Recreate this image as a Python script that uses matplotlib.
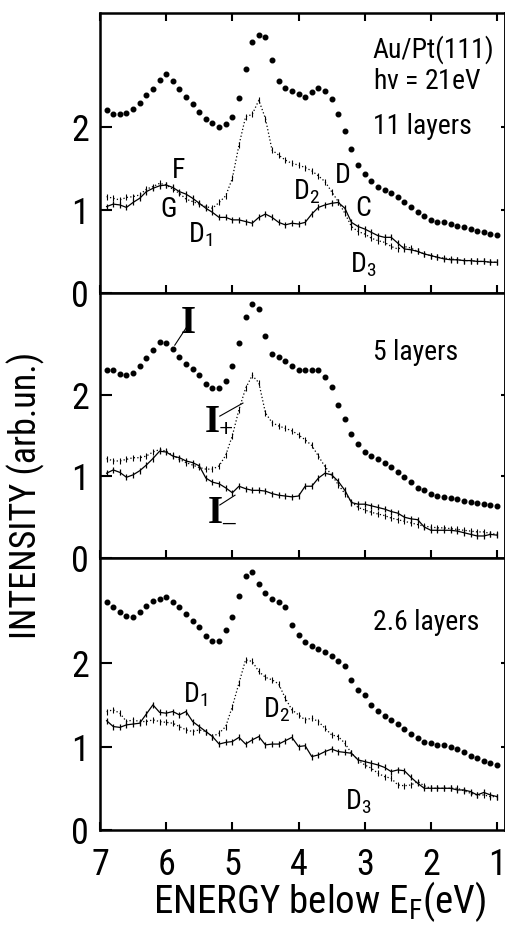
import matplotlib
matplotlib.use("Agg")
import matplotlib.pyplot as plt
import numpy as np
from matplotlib import font_manager

# energy grid (eV below E_F), 0.1 eV steps
energy = np.round(np.arange(6.9, 0.95, -0.1), 1)

# 11 layers
top_total = [2.20, 2.16, 2.15, 2.17, 2.22, 2.29, 2.38, 2.46, 2.56, 2.63,
             2.55, 2.45, 2.36, 2.28, 2.18, 2.10, 2.05, 2.00, 2.03, 2.12,
             2.35, 2.70, 3.02, 3.11, 3.08, 2.80, 2.55, 2.47, 2.43, 2.39,
             2.36, 2.42, 2.47, 2.43, 2.33, 2.15, 1.95, 1.73, 1.54, 1.43,
             1.35, 1.28, 1.24, 1.20, 1.16, 1.10, 1.04, 0.98, 0.93, 0.88,
             0.86, 0.85, 0.83, 0.81, 0.79, 0.77, 0.75, 0.73, 0.71, 0.70]
top_plus = [1.16, 1.14, 1.12, 1.15, 1.16, 1.18, 1.25, 1.28, 1.32, 1.30,
            1.25, 1.20, 1.13, 1.10, 1.07, 1.04, 1.02, 1.09, 1.17, 1.38,
            1.78, 2.12, 2.15, 2.32, 2.10, 1.72, 1.66, 1.60, 1.56, 1.54,
            1.51, 1.47, 1.41, 1.34, 1.22, 1.10, 0.96, 0.80, 0.74, 0.71,
            0.66, 0.63, 0.61, 0.56, 0.53, 0.56, 0.54, 0.50, 0.47, 0.45,
            0.43, 0.42, 0.41, 0.40, 0.39, 0.39, 0.38, 0.38, 0.37, 0.37]
top_minus = [1.04, 1.07, 1.06, 1.03, 1.09, 1.14, 1.22, 1.26, 1.29, 1.30,
             1.27, 1.22, 1.19, 1.14, 1.08, 1.02, 0.97, 0.91, 0.91, 0.88,
             0.88, 0.86, 0.84, 0.91, 0.95, 0.91, 0.85, 0.82, 0.84, 0.83,
             0.85, 0.95, 1.03, 1.06, 1.08, 1.09, 1.02, 0.85, 0.80, 0.77,
             0.73, 0.69, 0.67, 0.67, 0.60, 0.53, 0.52, 0.50, 0.47, 0.45,
             0.43, 0.41, 0.40, 0.40, 0.39, 0.39, 0.38, 0.38, 0.37, 0.37]

# 5 layers
mid_total = [2.31, 2.30, 2.26, 2.25, 2.27, 2.35, 2.45, 2.55, 2.65, 2.64,
             2.56, 2.46, 2.38, 2.32, 2.24, 2.14, 2.09, 2.09, 2.17, 2.36,
             2.64, 2.95, 3.12, 3.05, 2.72, 2.50, 2.46, 2.42, 2.35, 2.30,
             2.30, 2.31, 2.30, 2.22, 2.10, 1.88, 1.70, 1.52, 1.40, 1.30,
             1.25, 1.21, 1.16, 1.11, 1.06, 0.99, 0.93, 0.86, 0.83, 0.78,
             0.76, 0.75, 0.74, 0.72, 0.70, 0.69, 0.68, 0.66, 0.65, 0.64]
mid_plus = [1.22, 1.19, 1.19, 1.21, 1.23, 1.23, 1.25, 1.30, 1.33, 1.31,
            1.26, 1.21, 1.17, 1.14, 1.11, 1.09, 1.09, 1.13, 1.26, 1.50,
            1.82, 2.08, 2.24, 2.15, 1.78, 1.66, 1.62, 1.59, 1.56, 1.51,
            1.45, 1.38, 1.25, 1.12, 1.02, 0.90, 0.79, 0.69, 0.62, 0.59,
            0.56, 0.54, 0.52, 0.49, 0.47, 0.45, 0.43, 0.41, 0.39, 0.38,
            0.37, 0.37, 0.36, 0.35, 0.34, 0.33, 0.32, 0.32, 0.30, 0.29]
mid_minus = [1.04, 1.08, 1.05, 0.99, 1.02, 1.07, 1.14, 1.22, 1.31, 1.30,
             1.25, 1.23, 1.19, 1.17, 1.13, 0.98, 0.93, 0.91, 0.86, 0.80,
             0.88, 0.85, 0.83, 0.83, 0.82, 0.79, 0.77, 0.76, 0.75, 0.76,
             0.88, 0.88, 0.98, 1.04, 1.02, 0.94, 0.83, 0.68, 0.66, 0.66,
             0.64, 0.62, 0.60, 0.57, 0.55, 0.50, 0.48, 0.47, 0.38, 0.34,
             0.34, 0.34, 0.34, 0.33, 0.31, 0.29, 0.27, 0.27, 0.29, 0.28]

# 2.6 layers
bot_total = [2.73, 2.67, 2.61, 2.57, 2.55, 2.61, 2.69, 2.75, 2.77, 2.79,
             2.73, 2.67, 2.59, 2.50, 2.43, 2.33, 2.27, 2.27, 2.40, 2.55,
             2.80, 3.05, 3.09, 2.95, 2.84, 2.77, 2.73, 2.67, 2.46, 2.34,
             2.25, 2.21, 2.17, 2.13, 2.09, 2.03, 1.96, 1.80, 1.68, 1.62,
             1.50, 1.43, 1.37, 1.32, 1.27, 1.21, 1.15, 1.10, 1.06, 1.04,
             1.02, 1.02, 1.00, 0.97, 0.93, 0.89, 0.86, 0.83, 0.80, 0.78]
bot_plus = [1.42, 1.44, 1.40, 1.30, 1.32, 1.30, 1.30, 1.32, 1.30, 1.29,
            1.28, 1.24, 1.20, 1.18, 1.20, 1.18, 1.12, 1.16, 1.24, 1.48,
            1.76, 2.04, 2.02, 1.90, 1.83, 1.80, 1.75, 1.58, 1.44, 1.38,
            1.32, 1.34, 1.30, 1.22, 1.14, 1.12, 1.04, 0.92, 0.84, 0.78,
            0.74, 0.68, 0.64, 0.62, 0.54, 0.53, 0.54, 0.58, 0.53, 0.50,
            0.50, 0.50, 0.50, 0.50, 0.47, 0.44, 0.42, 0.42, 0.40, 0.40]
bot_minus = [1.31, 1.24, 1.23, 1.26, 1.27, 1.28, 1.39, 1.50, 1.41, 1.40,
             1.42, 1.38, 1.42, 1.30, 1.24, 1.18, 1.12, 1.03, 1.05, 1.06,
             1.11, 1.03, 1.08, 1.12, 1.02, 1.03, 1.03, 1.07, 1.11, 1.00,
             1.01, 0.88, 0.90, 0.94, 0.97, 0.94, 0.93, 0.92, 0.84, 0.82,
             0.80, 0.78, 0.75, 0.70, 0.72, 0.71, 0.63, 0.56, 0.50, 0.50,
             0.50, 0.50, 0.50, 0.48, 0.48, 0.46, 0.42, 0.45, 0.42, 0.40]

x_ticks = [7, 6, 5, 4, 3, 2, 1]
y_ticks = [0, 1, 2]
panel_titles = ["11 layers", "5 layers", "2.6 layers"]

# look for a narrow sans (the original uses a DIN-like face)
fonts = font_manager.fontManager.ttflist
names = {f.name for f in fonts}
sans, stretch, scale = "Roboto", "normal", 0.88
for cand in ["Liberation Sans Narrow", "Roboto Condensed", "Open Sans Condensed",
             "Noto Sans Condensed", "DejaVu Sans Condensed"]:
    if cand in names:
        sans, scale = cand, 1.0
        break
else:
    if any(f.name == "DejaVu Sans" and "condensed" in str(f.stretch) for f in fonts):
        sans, stretch, scale = "DejaVu Sans", "condensed", 0.95
    elif "Roboto" not in names:
        sans, scale = "DejaVu Sans", 0.82
serif = "Liberation Serif" if "Liberation Serif" in names else "DejaVu Serif"

plt.rcParams["font.family"] = [sans, "DejaVu Sans"]
plt.rcParams["font.stretch"] = stretch
plt.rcParams["mathtext.fontset"] = "custom"
plt.rcParams["mathtext.rm"] = sans
plt.rcParams["mathtext.it"] = sans
plt.rcParams["mathtext.default"] = "regular"

big = 26 * scale
small = 20 * scale

W, H = 506, 927
fig = plt.figure(figsize=(W / 100, H / 100), dpi=100)

# panel boxes in pixels: (top, bottom), and y-limit
boxes = [(13, 293, 3.37), (293, 558, 3.25), (558, 830, 3.26)]
x_left, x_right = 100, 505

panels = [(top_total, top_plus, top_minus),
          (mid_total, mid_plus, mid_minus),
          (bot_total, bot_plus, bot_minus)]

axes = []
for i, ((ptop, pbot, ymax), (tot, plus, minus)) in enumerate(zip(boxes, panels)):
    ax = fig.add_axes([x_left / W, (H - pbot) / H, (x_right - x_left) / W, (pbot - ptop) / H])
    ax.plot(energy, tot, ls="none", marker="o", ms=3.3, color="black")
    ax.plot(energy, plus, ls=(0, (1, 1.8)), lw=0.9, color="black",
            marker="|", ms=5, mew=0.8)
    ax.plot(energy, minus, ls="-", lw=0.9, color="black",
            marker="|", ms=5, mew=0.9)
    ax.set_xlim(7, 0.88)
    ax.set_ylim(0, ymax)
    ax.set_xticks(x_ticks)
    ax.set_yticks(y_ticks)
    for s in ax.spines.values():
        s.set_linewidth(1.8)
    ax.tick_params(axis="x", direction="in", length=6, width=1.5,
                   top=(i == 0), bottom=True, labelbottom=(i == 2),
                   labelsize=big, pad=12)
    ax.tick_params(axis="y", direction="in", length=8.5, width=1.5,
                   left=True, right=False, labelsize=big, pad=8)
    # small inward ticks on the right spine
    ax2 = ax.secondary_yaxis("right")
    ax2.set_yticks([1, 2])
    ax2.tick_params(direction="in", length=3, width=1.5, labelright=False)
    ax2.spines["right"].set_linewidth(1.8)
    ax.text(2.88, [2.0, 2.52, 2.49][i], panel_titles[i], fontsize=small,
            ha="left", va="center")
    axes.append(ax)

top, mid, bot = axes

# top panel labels
top.text(2.88, 2.93, "Au/Pt(111)", fontsize=small, ha="left", va="center")
top.text(2.88, 2.54, r"h$\nu$ = 21eV", fontsize=small, ha="left", va="center")
top.text(5.91, 1.48, "F", fontsize=small, ha="left", va="center")
top.text(6.09, 1.00, "G", fontsize=small, ha="left", va="center")
top.text(5.67, 0.70, "D$_1$", fontsize=small, ha="left", va="center")
top.text(4.08, 1.22, "D$_2$", fontsize=small, ha="left", va="center")
top.text(3.45, 1.42, "D", fontsize=small, ha="left", va="center")
top.text(3.15, 1.02, "C", fontsize=small, ha="left", va="center")
top.text(3.22, 0.34, "D$_3$", fontsize=small, ha="left", va="center")

# middle panel: I, I+, I- with pointer lines
mid.text(5.67, 2.88, "I", fontsize=28, fontweight="bold", family=serif,
         ha="center", va="center")
mid.plot([5.70, 5.87], [2.82, 2.61], color="black", lw=0.8)
mid.text(5.31, 1.66, "I", fontsize=28, fontweight="bold", family=serif,
         ha="center", va="center")
mid.text(5.21, 1.56, "+", fontsize=18, fontweight="bold", family=serif,
         ha="left", va="center")
mid.plot([5.19, 4.84], [1.74, 1.90], color="black", lw=0.8)
mid.text(5.26, 0.55, "I", fontsize=28, fontweight="bold", family=serif,
         ha="center", va="center")
mid.text(5.16, 0.43, "\u2013", fontsize=18, fontweight="bold", family=serif,
         ha="left", va="center")
mid.plot([5.19, 4.96], [0.65, 0.77], color="black", lw=0.8)

# bottom panel labels
bot.text(5.75, 1.62, "D$_1$", fontsize=small, ha="left", va="center")
bot.text(4.54, 1.44, "D$_2$", fontsize=small, ha="left", va="center")
bot.text(3.30, 0.34, "D$_3$", fontsize=small, ha="left", va="center")

fig.text(320 / W, 1 - 902 / H, r"ENERGY below E$_{F}$(eV)", fontsize=28 * scale,
         ha="center", va="center")
fig.text(26 / W, 1 - 495 / H, "INTENSITY (arb.un.)", fontsize=26 * scale,
         rotation=90, ha="center", va="center")

fig.savefig("out.png", dpi=100)
